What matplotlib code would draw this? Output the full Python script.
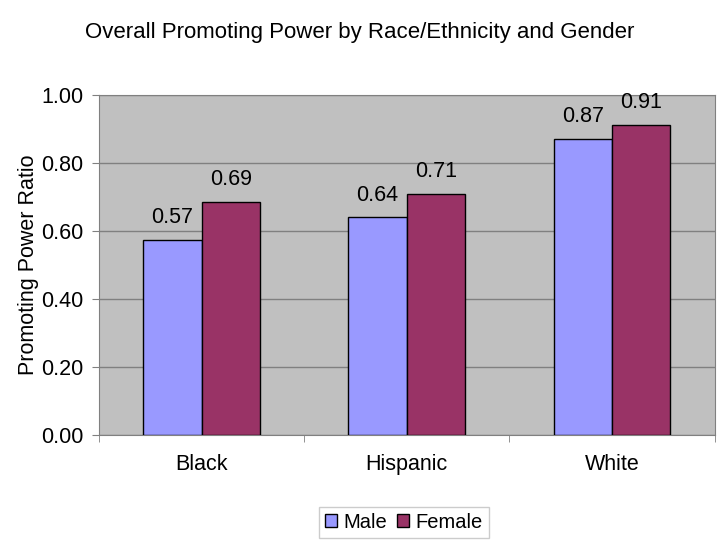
import numpy as np
import matplotlib.pyplot as plt

plt.rcParams['font.family'] = ['Liberation Sans', 'DejaVu Sans']

categories = ['Black', 'Hispanic', 'White']
male = [0.574, 0.64, 0.87]
female = [0.686, 0.71, 0.913]

fig = plt.figure(figsize=(7.2, 5.4), dpi=100)
ax = fig.add_axes([0.1375, 0.1944, 0.855, 0.6296])
ax.set_facecolor('#C0C0C0')

x = np.arange(len(categories))
w = 0.285
b1 = ax.bar(x - w / 2, male, w, color='#9999FF', edgecolor='black', linewidth=1, label='Male', zorder=3)
b2 = ax.bar(x + w / 2, female, w, color='#993366', edgecolor='black', linewidth=1, label='Female', zorder=3)

for bars, vals in [(b1, male), (b2, female)]:
    for r, v in zip(bars, vals):
        ax.text(r.get_x() + r.get_width() / 2, v + 0.035, f'{v:.2f}', ha='center', va='bottom', fontsize=15.5)

ax.set_xlim(-0.5, 2.5)
ax.set_ylim(0, 1)
ax.set_yticks(np.arange(0, 1.01, 0.2))
ax.set_yticklabels([f'{t:.2f}' for t in np.arange(0, 1.01, 0.2)], fontsize=15.5)
ax.yaxis.grid(True, color='#808080', linewidth=1, zorder=0)
ax.set_xticks(x)
ax.set_xticklabels(categories, fontsize=15.5)
ax.tick_params(axis='x', length=0, pad=14)
ax.set_xticks([-0.5, 0.5, 1.5, 2.5], minor=True)
ax.tick_params(axis='x', which='minor', length=5, color='#808080')
ax.tick_params(axis='y', length=5, color='#808080', pad=6)
for s in ax.spines.values():
    s.set_color('#808080')
ax.set_ylabel('Promoting Power Ratio', fontsize=15.5, labelpad=2)

fig.text(0.5, 0.94, 'Overall Promoting Power by Race/Ethnicity and Gender', ha='center', va='center', fontsize=16)

leg = fig.legend(loc='center', bbox_to_anchor=(0.561, 0.033), ncol=2, fontsize=14.5, frameon=True,
                 fancybox=False, edgecolor='#C0C0C0', handlelength=0.6, handleheight=0.6,
                 handletextpad=0.3, columnspacing=0.5, borderpad=0.3)

plt.savefig('out.png', dpi=100)
